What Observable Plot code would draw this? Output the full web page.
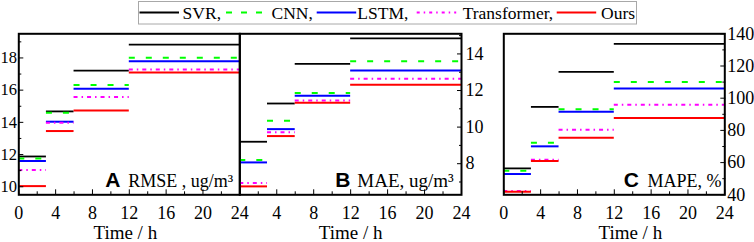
<!DOCTYPE html>
<html><head><meta charset="utf-8">
<script src="https://cdn.jsdelivr.net/npm/d3@7"></script>
<script src="https://cdn.jsdelivr.net/npm/@observablehq/plot@0.6"></script>
<style>
html,body{margin:0;padding:0;background:#fff;overflow:hidden;}
#fig{position:relative;width:754px;height:242px;}
#fig svg{position:absolute;left:0;top:0;color:black;background:transparent;}
</style></head><body><div id="fig"></div>
<script>
// ---- data ----
const models = ["SVR", "CNN", "LSTM", "Transformer", "Ours"];
const segStart = [0, 3, 6, 12];
const segEnd = [3, 6, 12, 24];

const rmseSVR = [11.88, 14.68, 17.21, 18.83];
const rmseCNN = [11.76, 14.60, 16.32, 18.02];
const rmseLSTM = [11.60, 14.04, 16.09, 17.79];
const rmseTransformer = [11.04, 13.98, 15.57, 17.29];
const rmseOurs = [10.04, 13.46, 14.74, 17.10];

const maeSVR = [9.20, 11.29, 13.46, 14.85];
const maeCNN = [8.20, 10.35, 11.87, 13.60];
const maeLSTM = [8.07, 9.89, 11.71, 13.09];
const maeTransformer = [6.94, 9.72, 11.45, 12.64];
const maeOurs = [6.76, 9.51, 11.33, 12.31];

const mapeSVR = [56.4, 94.6, 116.3, 133.8];
const mapeCNN = [54.9, 72.4, 93.1, 110.1];
const mapeLSTM = [52.9, 70.1, 91.6, 106.0];
const mapeTransformer = [42.3, 61.8, 80.4, 96.0];
const mapeOurs = [41.9, 61.0, 75.5, 87.7];

const xTicks = [0, 4, 8, 12, 16, 20, 24];
const xMinor = [2, 6, 10, 14, 18, 22];
const rmseTicks = [10, 12, 14, 16, 18];
const rmseMinor = [11, 13, 15, 17, 19];
const maeTicks = [8, 10, 12, 14];
const maeMinor = [7, 9, 11, 13, 15];
const mapeTicks = [40, 60, 80, 100, 120, 140];
const mapeMinor = [50, 70, 90, 110, 130];

// ---- styles ----
const SERIF = "'Liberation Serif', 'Times New Roman', Times, serif";
const SANS = "'Liberation Sans', Arial, sans-serif";
const colors = ["#000000", "#00ff00", "#0000ff", "#ff00ff", "#ff0000"];
const dashes = [null, "6,11", null, "4,4,1.5,4", null];
const widths = [1.8, 2, 2, 2, 2];
const W = 754, H = 242, MT = 33.3, MB = 47.7;

const fig = document.getElementById("fig");

// ---- legend ----
const leg = d3.create("svg").attr("width", W).attr("height", 30);
leg.append("rect").attr("x", 138.5).attr("y", 1.5).attr("width", 498).attr("height", 22.5)
  .attr("fill", "white").attr("stroke", "#a8a8a8").attr("stroke-width", 1);
const legLineX = [139.5, 226, 316.7, 416.7, 556.7];
const legTextX = [182.6, 271.5, 357.3, 462.7, 601];
const legLabels = ["SVR,", "CNN,", "LSTM,", "Transformer,", "Ours"];
models.forEach((m, i) => {
  leg.append("line").attr("x1", legLineX[i]).attr("x2", legLineX[i] + 39.5)
    .attr("y1", 12.5).attr("y2", 12.5).attr("stroke", colors[i]).attr("stroke-width", 1.8)
    .attr("stroke-dasharray", i === 1 ? "6,9" : i === 3 ? "3,4,1.5,4" : null);
  leg.append("text").attr("x", legTextX[i]).attr("y", 19.3).text(legLabels[i])
    .style("font-family", SERIF).style("font-size", "17.5px").attr("fill", "black");
});
fig.appendChild(leg.node());

function panel(o) {
  const marks = [];
  o.series.forEach((vals, i) => {
    const rows = vals.map((v, j) => ({x1: segStart[j], x2: segEnd[j], y: v}));
    marks.push(Plot.ruleY(rows, {x1: "x1", x2: "x2", y: "y", stroke: colors[i],
      strokeWidth: widths[i], strokeDasharray: dashes[i]}));
  });
  marks.push(Plot.axisX(o.xLabels, {tickSize: -5, tickPadding: 16.4, label: null, fontSize: 18}));
  marks.push(Plot.axisX(xMinor, {tickSize: -3, fill: null, label: null}));
  marks.push(Plot.axisY(o.yTicks, {anchor: o.yAnchor, tickSize: -5, tickPadding: o.yPad, label: null, fontSize: o.yFont}));
  marks.push(Plot.axisY(o.yMinor, {anchor: o.yAnchor, tickSize: -3, fill: null, label: null}));
  marks.push(Plot.frame({stroke: "black", strokeWidth: 2}));
  marks.push(Plot.text([o.letter], {frameAnchor: "bottom-right", textAnchor: "end", lineAnchor: "bottom",
    dx: o.letterDx, dy: -7.6, fontWeight: "bold", fontSize: 21, className: "letter"}));
  marks.push(Plot.text([o.label], {frameAnchor: "bottom-right", textAnchor: "end", lineAnchor: "bottom",
    dx: o.labelDx, dy: -7.6, fontSize: o.labelFont}));
  marks.push(Plot.text(["Time / h"], {frameAnchor: "bottom", lineAnchor: "bottom", dy: 43.7, dx: o.titleDx,
    fontSize: 19}));
  const svg = Plot.plot({
    width: W, height: H, marginTop: MT, marginBottom: MB, marginLeft: o.ml, marginRight: o.mr,
    x: {domain: [0, 24], label: null},
    y: {domain: o.yDomain, label: null},
    style: {background: "transparent", color: "black"},
    marks
  });
  // force the fonts with inline styles
  d3.select(svg).selectAll("text").style("font-family", SERIF);
  d3.select(svg).selectAll(".letter text").style("font-family", SANS);
  return svg;
}

fig.appendChild(panel({
  ml: 18.3, mr: W - 239.3, yDomain: [9.5, 19.5], yTicks: rmseTicks, yMinor: rmseMinor, yAnchor: "left", yPad: 6.8, yFont: 16.5,
  xLabels: xTicks, series: [rmseSVR, rmseCNN, rmseLSTM, rmseTransformer, rmseOurs],
  letter: "A", label: "RMSE , ug/m³", labelFont: 18, letterDx: -119.3, labelDx: -6.6, titleDx: -4
}));
fig.appendChild(panel({
  ml: 239.3, mr: W - 461, yDomain: [6.3, 15.1], yTicks: maeTicks, yMinor: maeMinor, yAnchor: "right", yPad: 9, yFont: 18,
  xLabels: xTicks.slice(1), series: [maeSVR, maeCNN, maeLSTM, maeTransformer, maeOurs],
  letter: "B", label: "MAE, ug/m³", labelFont: 19, letterDx: -111, labelDx: -7.7, titleDx: 0
}));
fig.appendChild(panel({
  ml: 503.3, mr: W - 724.3, yDomain: [40, 140], yTicks: mapeTicks, yMinor: mapeMinor, yAnchor: "right", yPad: 7.5, yFont: 18,
  xLabels: xTicks, series: [mapeSVR, mapeCNN, mapeLSTM, mapeTransformer, mapeOurs],
  letter: "C", label: "MAPE, %", labelFont: 18, letterDx: -86, labelDx: -3.3, titleDx: 16
}));
</script></body></html>
